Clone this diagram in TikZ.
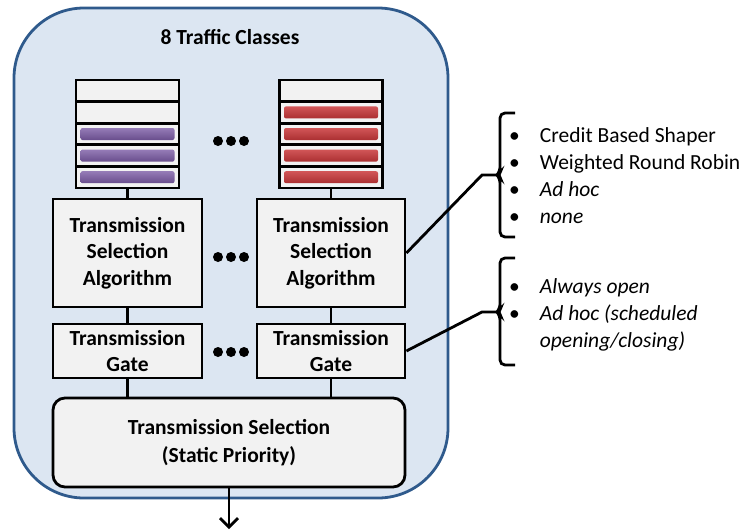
\documentclass[tikz,border=0pt]{standalone}
\usepackage{fontspec}
\setmainfont{Carlito}
\usetikzlibrary{positioning,arrows.meta}

\definecolor{panelblue}{HTML}{DCE6F2}
\definecolor{paneledge}{HTML}{2F5A8C}
\definecolor{boxgray}{HTML}{F2F2F2}
\definecolor{barpurple}{HTML}{7B5BA5}
\definecolor{barred}{HTML}{C9383A}

\begin{document}
\begin{tikzpicture}[x=1pt, y=-1pt,
  every node/.style = {font=\fontsize{21.5}{27}\selectfont},
  panel/.style = {draw=paneledge, line width=2.8pt, fill=panelblue,
    rounded corners=70pt, minimum width=434pt, minimum height=490pt},
  block/.style = {draw, line width=2.8pt, fill=boxgray, align=center,
    inner sep=0pt, font=\fontsize{21.5}{26.5}\selectfont\bfseries},
  slot/.style = {draw, line width=2.8pt, fill=boxgray, inner sep=0pt,
    minimum width=103pt, minimum height=21.6pt},
  pbar/.style = {rounded corners=2pt, inner sep=0pt, minimum width=94pt,
    minimum height=12pt, top color=barpurple!80!white, bottom color=barpurple!85!black},
  rbar/.style = {pbar, top color=barred!85!white, bottom color=barred!85!black},
  wire/.style = {line width=2.8pt},
  brace/.style = {line width=2.8pt, rounded corners=5pt}
  ]
  \useasboundingbox (0,0) rectangle (750,531);

  \node[panel] (panel) at (231,253) {};
  \node[font=\fontsize{21.5}{27}\selectfont\bfseries] (title) at (230,37) {8 Traffic Classes};

  % queues
  \foreach \i in {0,...,4} {
    \node[slot] (qL\i) at (127.5,{90.8+21.6*\i}) {};
    \node[slot] (qR\i) at (331,{90.8+21.6*\i}) {};
  }
  \foreach \i in {2,3,4}
    \node[pbar] (pb\i) at (qL\i) {};
  \foreach \i in {1,...,4}
    \node[rbar] (rb\i) at (qR\i) {};

  % per class blocks
  \node[block, minimum width=149pt, minimum height=108pt] (tsaL) at (127.5,253)
    {Transmission\\Selection\\Algorithm};
  \node[block, minimum width=148pt, minimum height=108pt] (tsaR) at (331,253)
    {Transmission\\Selection\\Algorithm};
  \node[block, minimum width=149pt, minimum height=54pt] (gateL) at (127.5,351)
    {Transmission\\Gate};
  \node[block, minimum width=148pt, minimum height=54pt] (gateR) at (331,351)
    {Transmission\\Gate};
  \node[block, rounded corners=12pt, minimum width=352pt, minimum height=89pt,
    font=\fontsize{21.5}{28}\selectfont\bfseries] (tsel) at (229,442.5)
    {Transmission Selection\\(Static Priority)};

  % dots
  \foreach \y in {141,257,352}
    \foreach \x in {218,231,244}
      \fill (\x,\y) circle (5pt);

  \draw[wire] (qL4.south) -- (tsaL.north);
  \draw[wire] (qR4.south) -- (tsaR.north);
  \draw[wire] (tsaL.south) -- (gateL.north);
  \draw[wire] (tsaR.south) -- (gateR.north);
  \draw[wire] (gateL.south) -- (gateL.south |- tsel.north);
  \draw[wire] (gateR.south) -- (gateR.south |- tsel.north);
  \coordinate (out) at (229,529);
  \draw[wire, -{Straight Barb[length=9pt, width=18pt, line width=2.8pt]}] (tsel.south) -- (out);

  % option lists
  \coordinate (tipA) at (497,175);
  \coordinate (tipB) at (497,312);
  \draw[brace] (515,113) -- (500,113) -- (500,172) -- (tipA) -- (500,178)
    -- (500,237) -- (515,237);
  \draw[brace] (515,258) -- (500,258) -- (500,309) -- (tipB) -- (500,315)
    -- (500,365) -- (515,365);
  \draw[wire] (tsaR.east) -- ([xshift=-15pt]tipA) -- (tipA);
  \draw[wire] (gateR.east) -- ([xshift=-15pt]tipB) -- (tipB);

  \node[anchor=west, inner sep=0pt] (algos) at (509,178) {%
    \begin{tabular}{@{}l@{\hspace{20pt}}l@{}}
      \textbullet & Credit Based Shaper\\
      \textbullet & Weighted Round Robin\\
      \textbullet & \textit{Ad hoc}\\
      \textbullet & \textit{none}
    \end{tabular}};
  \node[anchor=west, inner sep=0pt] (gates) at (509,315) {%
    \begin{tabular}{@{}l@{\hspace{20pt}}l@{}}
      \textbullet & \textit{Always open}\\
      \textbullet & \textit{Ad hoc (scheduled}\\
                  & \textit{opening/closing)}
    \end{tabular}};
\end{tikzpicture}
\end{document}
